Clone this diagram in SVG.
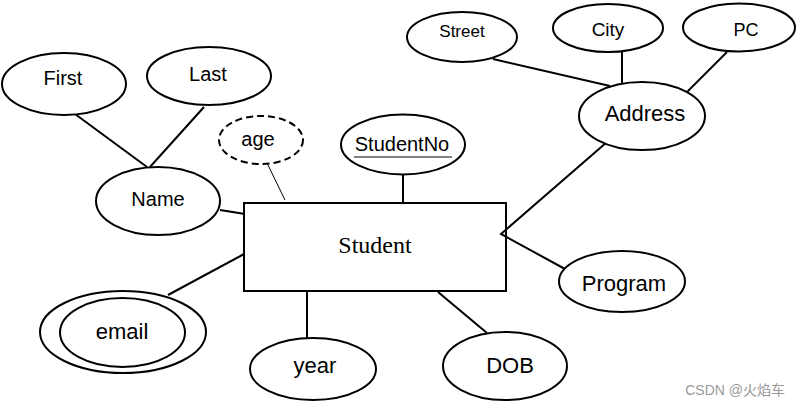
<svg xmlns="http://www.w3.org/2000/svg" width="800" height="406" viewBox="0 0 800 406">
<style>
.e{fill:#fff;stroke:#000;stroke-width:2}
.d{fill:#fff;stroke:#000;stroke-width:2;stroke-dasharray:7 4}
.t{font-family:"Liberation Sans",Arial,sans-serif;fill:#000;text-anchor:middle}
.c line,.c polyline{stroke:#000;stroke-width:2;fill:none}
</style>
<rect width="800" height="406" fill="#fff"/>
<g class="c" id="connectors">
<line x1="75" y1="114" x2="147" y2="167"/>
<line x1="204" y1="107" x2="150" y2="167"/>
<line x1="220" y1="210" x2="245" y2="214"/>
<line x1="267" y1="163" x2="285" y2="200" style="stroke-width:1"/>
<line x1="403" y1="175" x2="403" y2="203"/>
<line x1="493" y1="59" x2="610" y2="86"/>
<line x1="622" y1="52" x2="622" y2="83"/>
<line x1="727" y1="52" x2="687" y2="92"/>
<polyline points="607,142 501,234 565,269"/>
<line x1="438" y1="292" x2="487" y2="333"/>
<line x1="307" y1="291" x2="307" y2="338"/>
<line x1="168" y1="295" x2="244" y2="254"/>
</g>
<g id="student">
<rect x="244" y="203" width="262" height="88" fill="none" stroke="#000" stroke-width="2"/>
<text x="375" y="253" font-family="'Liberation Serif','Times New Roman',serif" font-size="24" text-anchor="middle">Student</text>
</g>
<g id="first"><ellipse class="e" cx="64" cy="84" rx="62" ry="31"/><text class="t" x="63" y="85" font-size="20">First</text></g>
<g id="last"><ellipse class="e" cx="209" cy="76" rx="62" ry="29"/><text class="t" x="208" y="81" font-size="20">Last</text></g>
<g id="name"><ellipse class="e" cx="158" cy="201" rx="62" ry="34"/><text class="t" x="158" y="206" font-size="20">Name</text></g>
<g id="age"><ellipse class="d" cx="261" cy="140" rx="42" ry="24"/><text class="t" x="258" y="146" font-size="20">age</text></g>
<g id="studentno"><ellipse class="e" cx="403" cy="144.5" rx="62" ry="30"/><text class="t" x="402" y="151" font-size="20">StudentNo</text><line x1="354" y1="157" x2="452" y2="157" stroke="#000" stroke-width="1"/></g>
<g id="street"><ellipse class="e" cx="462" cy="37" rx="55" ry="25"/><text class="t" x="462" y="37" font-size="17">Street</text></g>
<g id="city"><ellipse class="e" cx="608" cy="28" rx="55" ry="24"/><text class="t" x="608" y="36" font-size="19">City</text></g>
<g id="pc"><ellipse class="e" cx="739" cy="27.5" rx="56" ry="24"/><text class="t" x="746" y="36" font-size="18">PC</text></g>
<g id="address"><ellipse class="e" cx="642" cy="116" rx="63" ry="34"/><text class="t" x="645" y="121" font-size="22">Address</text></g>
<g id="program"><ellipse class="e" cx="622" cy="281.5" rx="63" ry="30.5"/><text class="t" x="624" y="291" font-size="22">Program</text></g>
<g id="dob"><ellipse class="e" cx="505" cy="366" rx="62" ry="34"/><text class="t" x="510" y="373" font-size="22">DOB</text></g>
<g id="year"><ellipse class="e" cx="313" cy="369" rx="63" ry="31"/><text class="t" x="315" y="373" font-size="22">year</text></g>
<g id="email"><ellipse class="e" cx="123" cy="332" rx="83" ry="41"/><ellipse class="e" cx="122.5" cy="332.5" rx="62.5" ry="34.5"/><text class="t" x="122" y="339" font-size="22">email</text></g>
<text x="785" y="395" font-family="'Liberation Sans','Noto Sans CJK SC',sans-serif" font-size="14" fill="#999" text-anchor="end">CSDN @火焰车</text>
</svg>
